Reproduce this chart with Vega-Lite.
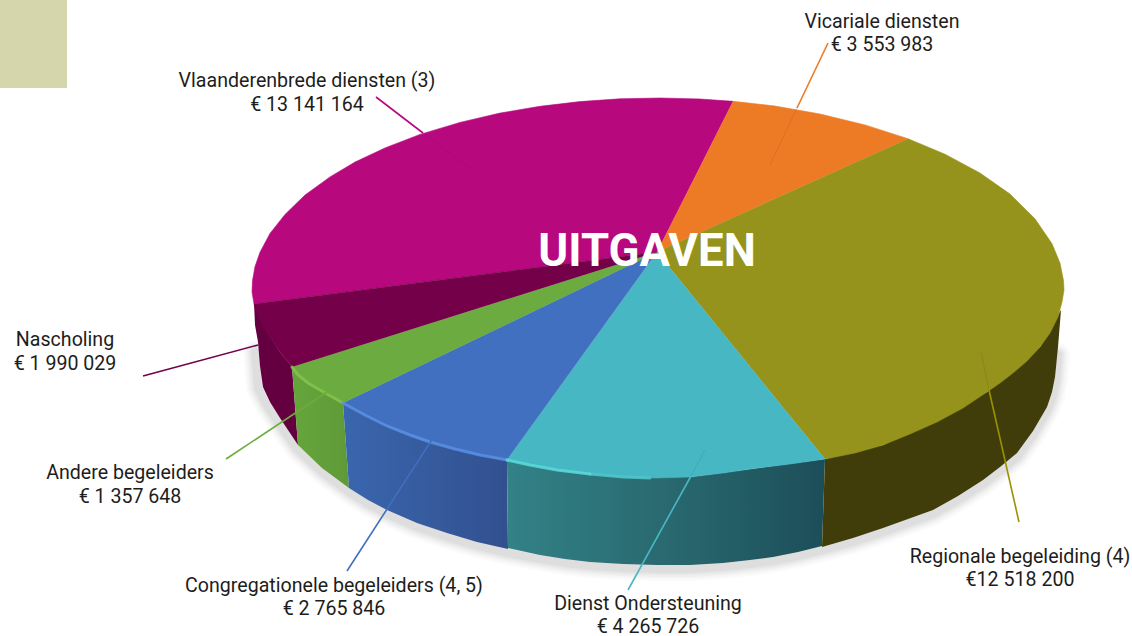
{"$schema":"https://vega.github.io/schema/vega-lite/v6.json","width":1132,"height":636,"autosize":"none","padding":0,"background":"white","config":{"view":{"stroke":null}},
"datasets":{
"vlak":[{"x":0,"x2":67,"y":0,"y2":88}],
"top":[
{"part":"Vlaanderenbrede","i":0,"x":657,"y":252},{"part":"Vlaanderenbrede","i":1,"x":733,"y":101.3},{"part":"Vlaanderenbrede","i":2,"x":700,"y":99},{"part":"Vlaanderenbrede","i":3,"x":660,"y":98},{"part":"Vlaanderenbrede","i":4,"x":620,"y":98.8},{"part":"Vlaanderenbrede","i":5,"x":580,"y":101.6},{"part":"Vlaanderenbrede","i":6,"x":540,"y":106.3},{"part":"Vlaanderenbrede","i":7,"x":500,"y":113.1},{"part":"Vlaanderenbrede","i":8,"x":460,"y":122.4},{"part":"Vlaanderenbrede","i":9,"x":420,"y":134.4},{"part":"Vlaanderenbrede","i":10,"x":385,"y":147.9},{"part":"Vlaanderenbrede","i":11,"x":355,"y":162.1},{"part":"Vlaanderenbrede","i":12,"x":330,"y":176.9},{"part":"Vlaanderenbrede","i":13,"x":305,"y":195.1},{"part":"Vlaanderenbrede","i":14,"x":285,"y":214.4},{"part":"Vlaanderenbrede","i":15,"x":270,"y":233.4},{"part":"Vlaanderenbrede","i":16,"x":260,"y":252.2},{"part":"Vlaanderenbrede","i":17,"x":255,"y":266.6},{"part":"Vlaanderenbrede","i":18,"x":252.5,"y":280.6},{"part":"Vlaanderenbrede","i":19,"x":252,"y":292},{"part":"Vlaanderenbrede","i":20,"x":254,"y":304},
{"part":"Vicariale","i":0,"x":657,"y":252},{"part":"Vicariale","i":1,"x":908,"y":138.7},{"part":"Vicariale","i":2,"x":865,"y":124.9},{"part":"Vicariale","i":3,"x":820,"y":114},{"part":"Vicariale","i":4,"x":775,"y":106},{"part":"Vicariale","i":5,"x":733,"y":101.3},
{"part":"Regionale","i":0,"x":657,"y":252},{"part":"Regionale","i":1,"x":825,"y":459},{"part":"Regionale","i":2,"x":855,"y":453},{"part":"Regionale","i":3,"x":883,"y":445},{"part":"Regionale","i":4,"x":910,"y":434},{"part":"Regionale","i":5,"x":937,"y":422},{"part":"Regionale","i":6,"x":963,"y":408},{"part":"Regionale","i":7,"x":987,"y":392},{"part":"Regionale","i":8,"x":1000,"y":383},{"part":"Regionale","i":9,"x":1013,"y":373},{"part":"Regionale","i":10,"x":1027,"y":361},{"part":"Regionale","i":11,"x":1040,"y":347},{"part":"Regionale","i":12,"x":1050,"y":333},{"part":"Regionale","i":13,"x":1058,"y":317},{"part":"Regionale","i":14,"x":1062,"y":302},{"part":"Regionale","i":15,"x":1064,"y":290},{"part":"Regionale","i":16,"x":1063.5,"y":280.6},{"part":"Regionale","i":17,"x":1060,"y":263},{"part":"Regionale","i":18,"x":1052,"y":243.7},{"part":"Regionale","i":19,"x":1035,"y":218.8},{"part":"Regionale","i":20,"x":1010,"y":194},{"part":"Regionale","i":21,"x":980,"y":173},{"part":"Regionale","i":22,"x":945,"y":154.2},{"part":"Regionale","i":23,"x":908,"y":138.7},
{"part":"Dienst","i":0,"x":657,"y":252},{"part":"Dienst","i":1,"x":507,"y":460},{"part":"Dienst","i":2,"x":530,"y":465},{"part":"Dienst","i":3,"x":557,"y":470},{"part":"Dienst","i":4,"x":590,"y":474},{"part":"Dienst","i":5,"x":623,"y":477},{"part":"Dienst","i":6,"x":657,"y":478},{"part":"Dienst","i":7,"x":690,"y":477},{"part":"Dienst","i":8,"x":723,"y":473},{"part":"Dienst","i":9,"x":757,"y":468},{"part":"Dienst","i":10,"x":790,"y":464},{"part":"Dienst","i":11,"x":825,"y":459},
{"part":"Congregationele","i":0,"x":657,"y":252},{"part":"Congregationele","i":1,"x":343,"y":403},{"part":"Congregationele","i":2,"x":365,"y":415},{"part":"Congregationele","i":3,"x":387,"y":426},{"part":"Congregationele","i":4,"x":410,"y":435},{"part":"Congregationele","i":5,"x":430,"y":442},{"part":"Congregationele","i":6,"x":455,"y":449},{"part":"Congregationele","i":7,"x":480,"y":455},{"part":"Congregationele","i":8,"x":507,"y":460},
{"part":"Andere","i":0,"x":657,"y":252},{"part":"Andere","i":1,"x":292,"y":367},{"part":"Andere","i":2,"x":298,"y":375},{"part":"Andere","i":3,"x":308,"y":383},{"part":"Andere","i":4,"x":327,"y":394},{"part":"Andere","i":5,"x":343,"y":403},
{"part":"Nascholing","i":0,"x":657,"y":252},{"part":"Nascholing","i":1,"x":254,"y":304},{"part":"Nascholing","i":2,"x":256,"y":311},{"part":"Nascholing","i":3,"x":261,"y":322},{"part":"Nascholing","i":4,"x":267,"y":333},{"part":"Nascholing","i":5,"x":280,"y":352},{"part":"Nascholing","i":6,"x":292,"y":367}
],
"zij":[
{"part":"Nascholing","i":0,"x":254,"y":303},{"part":"Nascholing","i":1,"x":255,"y":325},{"part":"Nascholing","i":2,"x":258,"y":342},{"part":"Nascholing","i":3,"x":260,"y":366},{"part":"Nascholing","i":4,"x":263,"y":387},{"part":"Nascholing","i":5,"x":270,"y":402},{"part":"Nascholing","i":6,"x":280,"y":418},{"part":"Nascholing","i":7,"x":298,"y":445},{"part":"Nascholing","i":8,"x":292,"y":367},{"part":"Nascholing","i":9,"x":280,"y":352},{"part":"Nascholing","i":10,"x":267,"y":332},
{"part":"Andere","i":0,"x":292,"y":367},{"part":"Andere","i":1,"x":298,"y":445},{"part":"Andere","i":2,"x":322,"y":468},{"part":"Andere","i":3,"x":349,"y":488},{"part":"Andere","i":4,"x":343,"y":403},{"part":"Andere","i":5,"x":327,"y":394},{"part":"Andere","i":6,"x":308,"y":383},
{"part":"Congregationele","i":0,"x":343,"y":403},{"part":"Congregationele","i":1,"x":349,"y":488},{"part":"Congregationele","i":2,"x":368,"y":500},{"part":"Congregationele","i":3,"x":387,"y":510},{"part":"Congregationele","i":4,"x":417,"y":523},{"part":"Congregationele","i":5,"x":447,"y":533},{"part":"Congregationele","i":6,"x":477,"y":542},{"part":"Congregationele","i":7,"x":508,"y":549},{"part":"Congregationele","i":8,"x":507,"y":460},{"part":"Congregationele","i":9,"x":430,"y":442},{"part":"Congregationele","i":10,"x":387,"y":426},
{"part":"Dienst","i":0,"x":507,"y":460},{"part":"Dienst","i":1,"x":508,"y":548},{"part":"Dienst","i":2,"x":540,"y":555},{"part":"Dienst","i":3,"x":565,"y":559},{"part":"Dienst","i":4,"x":590,"y":562},{"part":"Dienst","i":5,"x":623,"y":564},{"part":"Dienst","i":6,"x":657,"y":565},{"part":"Dienst","i":7,"x":690,"y":565},{"part":"Dienst","i":8,"x":723,"y":563},{"part":"Dienst","i":9,"x":750,"y":560},{"part":"Dienst","i":10,"x":773,"y":557},{"part":"Dienst","i":11,"x":798,"y":552},{"part":"Dienst","i":12,"x":822,"y":546},{"part":"Dienst","i":13,"x":825,"y":459},{"part":"Dienst","i":14,"x":690,"y":477},{"part":"Dienst","i":15,"x":623,"y":477},
{"part":"Regionale","i":0,"x":825,"y":459},{"part":"Regionale","i":1,"x":822,"y":547},{"part":"Regionale","i":2,"x":853,"y":538},{"part":"Regionale","i":3,"x":883,"y":528},{"part":"Regionale","i":4,"x":908,"y":519},{"part":"Regionale","i":5,"x":933,"y":510},{"part":"Regionale","i":6,"x":958,"y":496},{"part":"Regionale","i":7,"x":983,"y":480},{"part":"Regionale","i":8,"x":1000,"y":467},{"part":"Regionale","i":9,"x":1017,"y":453},{"part":"Regionale","i":10,"x":1033,"y":431},{"part":"Regionale","i":11,"x":1047,"y":407},{"part":"Regionale","i":12,"x":1052,"y":392},{"part":"Regionale","i":13,"x":1055,"y":377},{"part":"Regionale","i":14,"x":1058,"y":347},{"part":"Regionale","i":15,"x":1061,"y":310},{"part":"Regionale","i":16,"x":1040,"y":347},{"part":"Regionale","i":17,"x":987,"y":392},{"part":"Regionale","i":18,"x":883,"y":445}
],
"schaduw":[
{"i":0,"x":255,"y":352},{"i":1,"x":258,"y":388},{"i":2,"x":266,"y":404},{"i":3,"x":278,"y":422},{"i":4,"x":297,"y":449},{"i":5,"x":322,"y":472},{"i":6,"x":349,"y":492},{"i":7,"x":368,"y":504},{"i":8,"x":387,"y":514},{"i":9,"x":417,"y":527},{"i":10,"x":447,"y":537},{"i":11,"x":477,"y":546},{"i":12,"x":508,"y":553},{"i":13,"x":540,"y":559},{"i":14,"x":565,"y":563},{"i":15,"x":590,"y":566},{"i":16,"x":623,"y":568},{"i":17,"x":657,"y":569},{"i":18,"x":690,"y":569},{"i":19,"x":723,"y":567},{"i":20,"x":750,"y":564},{"i":21,"x":773,"y":561},{"i":22,"x":798,"y":556},{"i":23,"x":822,"y":550},{"i":24,"x":853,"y":542},{"i":25,"x":883,"y":532},{"i":26,"x":908,"y":523},{"i":27,"x":933,"y":514},{"i":28,"x":958,"y":500},{"i":29,"x":983,"y":484},{"i":30,"x":1000,"y":471},{"i":31,"x":1017,"y":457},{"i":32,"x":1033,"y":435},{"i":33,"x":1047,"y":411},{"i":34,"x":1053,"y":396},{"i":35,"x":1056,"y":380},{"i":36,"x":1058,"y":355}
],
"rand":[
{"part":"Andere","i":0,"x":292,"y":367},{"part":"Andere","i":1,"x":298,"y":375},{"part":"Andere","i":2,"x":308,"y":383},{"part":"Andere","i":3,"x":327,"y":394},{"part":"Andere","i":4,"x":343,"y":403},
{"part":"Congregationele","i":0,"x":343,"y":403},{"part":"Congregationele","i":1,"x":365,"y":415},{"part":"Congregationele","i":2,"x":387,"y":426},{"part":"Congregationele","i":3,"x":410,"y":435},{"part":"Congregationele","i":4,"x":430,"y":442},{"part":"Congregationele","i":5,"x":455,"y":449},{"part":"Congregationele","i":6,"x":480,"y":455},{"part":"Congregationele","i":7,"x":507,"y":460},
{"part":"DienstZacht","i":0,"x":590,"y":474},{"part":"DienstZacht","i":1,"x":623,"y":477},{"part":"DienstZacht","i":2,"x":650,"y":478},
{"part":"Dienst","i":0,"x":507,"y":460},{"part":"Dienst","i":1,"x":530,"y":465},{"part":"Dienst","i":2,"x":557,"y":470},{"part":"Dienst","i":3,"x":590,"y":474}
],
"lijnen":[
{"part":"Vicariale","i":0,"x":828,"y":43},{"part":"Vicariale","i":1,"x":797,"y":108},
{"part":"Vlaanderenbrede","i":0,"x":376,"y":97},{"part":"Vlaanderenbrede","i":1,"x":423,"y":133},
{"part":"Nascholing","i":0,"x":143,"y":376},{"part":"Nascholing","i":1,"x":258,"y":345},
{"part":"Andere","i":0,"x":226,"y":459},{"part":"Andere","i":1,"x":327,"y":392},
{"part":"Congregationele","i":0,"x":347,"y":571},{"part":"Congregationele","i":1,"x":433,"y":438},
{"part":"Dienst","i":0,"x":628,"y":590},{"part":"Dienst","i":1,"x":691,"y":476},
{"part":"Regionale","i":0,"x":1019,"y":522},{"part":"Regionale","i":1,"x":989,"y":390}
],
"vaag":[
{"part":"Vicariale","i":0,"x":797,"y":108},{"part":"Vicariale","i":1,"x":770,"y":165},
{"part":"Vlaanderenbrede","i":0,"x":423,"y":133},{"part":"Vlaanderenbrede","i":1,"x":470,"y":168},
{"part":"Dienst","i":0,"x":691,"y":476},{"part":"Dienst","i":1,"x":705,"y":450},
{"part":"Regionale","i":0,"x":989,"y":390},{"part":"Regionale","i":1,"x":981,"y":352}
],
"labels":[
{"naam":"Vicariale diensten","bedrag":"€ 3 553 983","x":882,"y1":22,"y2":45},
{"naam":"Vlaanderenbrede diensten (3)","bedrag":"€ 13 141 164","x":307,"y1":81,"y2":105},
{"naam":"Nascholing","bedrag":"€ 1 990 029","x":65,"y1":340,"y2":364},
{"naam":"Andere begeleiders","bedrag":"€ 1 357 648","x":130,"y1":473,"y2":497},
{"naam":"Congregationele begeleiders (4, 5)","bedrag":"€ 2 765 846","x":334,"y1":586,"y2":609},
{"naam":"Dienst Ondersteuning","bedrag":"€ 4 265 726","x":648,"y1":604,"y2":626.5},
{"naam":"Regionale begeleiding (4)","bedrag":"€12 518 200","x":1020,"y1":557,"y2":580}
],
"titel":[{"t":"UITGAVEN","x":647,"y":252}]
},
"layer":[
{"data":{"name":"vlak"},"mark":{"type":"rect","fill":"#d5d6ac"},"encoding":{"x":{"field":"x","type":"quantitative","scale":{"domain":[0,1132],"nice":false,"zero":false},"axis":null},"x2":{"field":"x2"},"y":{"field":"y","type":"quantitative","scale":{"domain":[636,0],"nice":false,"zero":false},"axis":null},"y2":{"field":"y2"}}},
{"data":{"name":"schaduw"},"mark":{"type":"line","stroke":"#777777","strokeWidth":24,"opacity":0.03,"strokeCap":"round"},"encoding":{"x":{"field":"x","type":"quantitative","axis":null},"y":{"field":"y","type":"quantitative","axis":null},"order":{"field":"i"}}},
{"data":{"name":"schaduw"},"mark":{"type":"line","stroke":"#777777","strokeWidth":20,"opacity":0.04,"strokeCap":"round"},"encoding":{"x":{"field":"x","type":"quantitative","axis":null},"y":{"field":"y","type":"quantitative","axis":null},"order":{"field":"i"}}},
{"data":{"name":"schaduw"},"mark":{"type":"line","stroke":"#777777","strokeWidth":16,"opacity":0.05,"strokeCap":"round"},"encoding":{"x":{"field":"x","type":"quantitative","axis":null},"y":{"field":"y","type":"quantitative","axis":null},"order":{"field":"i"}}},
{"data":{"name":"schaduw"},"mark":{"type":"line","stroke":"#777777","strokeWidth":12,"opacity":0.06,"strokeCap":"round"},"encoding":{"x":{"field":"x","type":"quantitative","axis":null},"y":{"field":"y","type":"quantitative","axis":null},"order":{"field":"i"}}},
{"data":{"name":"schaduw"},"mark":{"type":"line","stroke":"#777777","strokeWidth":8,"opacity":0.07,"strokeCap":"round"},"encoding":{"x":{"field":"x","type":"quantitative","axis":null},"y":{"field":"y","type":"quantitative","axis":null},"order":{"field":"i"}}},
{"data":{"name":"zij"},"transform":[{"filter":"datum.part==='Nascholing'"}],"mark":{"type":"line","strokeWidth":0,"fill":"#640040"},"encoding":{"x":{"field":"x","type":"quantitative","axis":null},"y":{"field":"y","type":"quantitative","axis":null},"order":{"field":"i"}}},
{"data":{"name":"zij"},"transform":[{"filter":"datum.part==='Andere'"}],"mark":{"type":"line","strokeWidth":0,"fill":{"gradient":"linear","x1":0,"x2":1,"y1":0,"y2":0,"stops":[{"offset":0,"color":"#66a53c"},{"offset":1,"color":"#5f9a38"}]}},"encoding":{"x":{"field":"x","type":"quantitative","axis":null},"y":{"field":"y","type":"quantitative","axis":null},"order":{"field":"i"}}},
{"data":{"name":"zij"},"transform":[{"filter":"datum.part==='Congregationele'"}],"mark":{"type":"line","strokeWidth":0,"fill":{"gradient":"linear","x1":0,"x2":1,"y1":0,"y2":0,"stops":[{"offset":0,"color":"#3a66ae"},{"offset":1,"color":"#32508f"}]}},"encoding":{"x":{"field":"x","type":"quantitative","axis":null},"y":{"field":"y","type":"quantitative","axis":null},"order":{"field":"i"}}},
{"data":{"name":"zij"},"transform":[{"filter":"datum.part==='Dienst'"}],"mark":{"type":"line","strokeWidth":0,"fill":{"gradient":"linear","x1":0,"x2":1,"y1":0,"y2":0,"stops":[{"offset":0,"color":"#328287"},{"offset":0.5,"color":"#29696f"},{"offset":1,"color":"#1c4e5a"}]}},"encoding":{"x":{"field":"x","type":"quantitative","axis":null},"y":{"field":"y","type":"quantitative","axis":null},"order":{"field":"i"}}},
{"data":{"name":"zij"},"transform":[{"filter":"datum.part==='Regionale'"}],"mark":{"type":"line","strokeWidth":0,"fill":"#413d0a"},"encoding":{"x":{"field":"x","type":"quantitative","axis":null},"y":{"field":"y","type":"quantitative","axis":null},"order":{"field":"i"}}},
{"data":{"name":"top"},"mark":{"type":"line","strokeWidth":0.6},"encoding":{"x":{"field":"x","type":"quantitative","axis":null},"y":{"field":"y","type":"quantitative","axis":null},"order":{"field":"i"},
"fill":{"field":"part","type":"nominal","legend":null,"scale":{"domain":["Vlaanderenbrede","Vicariale","Regionale","Dienst","Congregationele","Andere","Nascholing"],"range":["#b8087e","#ed7a25","#95931b","#48b7c4","#4270c0","#6cab3f","#740049"]}},
"stroke":{"field":"part","type":"nominal","legend":null,"scale":{"domain":["Vlaanderenbrede","Vicariale","Regionale","Dienst","Congregationele","Andere","Nascholing"],"range":["#b8087e","#ed7a25","#95931b","#48b7c4","#4270c0","#6cab3f","#740049"]}}}},
{"data":{"name":"rand"},"mark":{"type":"line","strokeWidth":3,"opacity":0.85,"strokeCap":"round"},"encoding":{"x":{"field":"x","type":"quantitative","axis":null},"y":{"field":"y","type":"quantitative","axis":null},"order":{"field":"i"},
"stroke":{"field":"part","type":"nominal","legend":null,"scale":{"domain":["Andere","Congregationele","DienstZacht","Dienst"],"range":["#86c24e","#5b8fe2","#50c6ce","#5cdadc"]}}}},
{"data":{"name":"vaag"},"mark":{"type":"line","strokeWidth":1,"opacity":0.1,"stroke":"#222222"},"encoding":{"detail":{"field":"part"},"x":{"field":"x","type":"quantitative","axis":null},"y":{"field":"y","type":"quantitative","axis":null},"order":{"field":"i"}}},
{"data":{"name":"lijnen"},"mark":{"type":"line","strokeWidth":1.6},"encoding":{"x":{"field":"x","type":"quantitative","axis":null},"y":{"field":"y","type":"quantitative","axis":null},"order":{"field":"i"},
"stroke":{"field":"part","type":"nominal","legend":null,"scale":{"domain":["Vlaanderenbrede","Vicariale","Regionale","Dienst","Congregationele","Andere","Nascholing"],"range":["#b8087e","#ed7a25","#9a9200","#47b8c6","#3f6fc0","#6dab3f","#740049"]}}}},
{"data":{"name":"labels"},"mark":{"type":"text","font":"Roboto","fontSize":19.6,"fontWeight":400,"fill":"#1d1d1b","baseline":"middle","align":"center"},"encoding":{"x":{"field":"x","type":"quantitative","axis":null},"y":{"field":"y1","type":"quantitative","axis":null},"text":{"field":"naam"}}},
{"data":{"name":"labels"},"mark":{"type":"text","font":"Roboto","fontSize":19.6,"fontWeight":400,"fill":"#1d1d1b","baseline":"middle","align":"center"},"encoding":{"x":{"field":"x","type":"quantitative","axis":null},"y":{"field":"y2","type":"quantitative","axis":null},"text":{"field":"bedrag"}}},
{"data":{"name":"titel"},"mark":{"type":"text","font":"Roboto","fontSize":45.5,"fontWeight":700,"fill":"white","baseline":"middle","align":"center"},"encoding":{"x":{"field":"x","type":"quantitative","axis":null},"y":{"field":"y","type":"quantitative","axis":null},"text":{"field":"t"}}}
],
"resolve":{"scale":{"fill":"independent","stroke":"independent"}}
}
